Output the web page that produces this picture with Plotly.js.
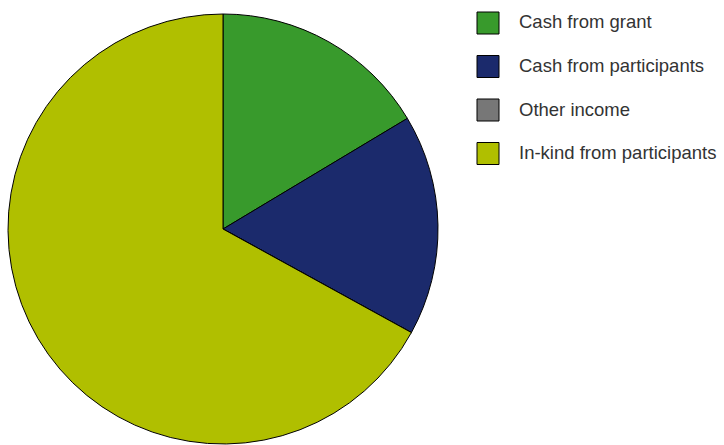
<!DOCTYPE html>
<html>
<head>
<meta charset="utf-8">
<script src="https://cdn.plot.ly/plotly-3.0.1.min.js"></script>
<style>html,body{margin:0;padding:0;background:#fff;}#chart{width:724px;height:445px;}</style>
</head>
<body>
<div id="chart"></div>
<script>
const labels = ["Cash from grant", "Cash from participants", "Other income", "In-kind from participants"];
const values = [16.4, 16.6, 0, 67.0];
const colors = ["#389a2c", "#1b2a6c", "#777777", "#b0bf00"];

const W = 724, H = 445;
const px = x => x / W;
const py = y => 1 - y / H;

const shapes = [];
const annotations = [];
const rowY = [23, 66.5, 110, 153.5];
labels.forEach((lab, i) => {
  const cy = rowY[i];
  shapes.push({
    type: "rect", xref: "paper", yref: "paper",
    x0: px(477), x1: px(499), y0: py(cy - 11), y1: py(cy + 11),
    fillcolor: colors[i], line: {color: "#000", width: 1}
  });
  annotations.push({
    xref: "paper", yref: "paper", x: px(517), y: py(cy - 1),
    xanchor: "left", yanchor: "middle", showarrow: false,
    text: lab, font: {family: "Liberation Sans, Arial, sans-serif", size: 18.5, color: "#333333"}
  });
});

const data = [{
  type: "pie",
  labels: labels,
  values: values,
  sort: false,
  direction: "clockwise",
  rotation: 0,
  textinfo: "none",
  hoverinfo: "label+percent",
  marker: {colors: colors, line: {color: "#000000", width: 1}},
  domain: {x: [px(8), px(438)], y: [py(444), py(14)]},
  showlegend: false
}];

const layout = {
  width: W, height: H,
  margin: {l: 0, r: 0, t: 0, b: 0},
  paper_bgcolor: "#ffffff",
  plot_bgcolor: "#ffffff",
  showlegend: false,
  shapes: shapes,
  annotations: annotations
};

Plotly.newPlot("chart", data, layout, {displayModeBar: false, staticPlot: true});
</script>
</body>
</html>
